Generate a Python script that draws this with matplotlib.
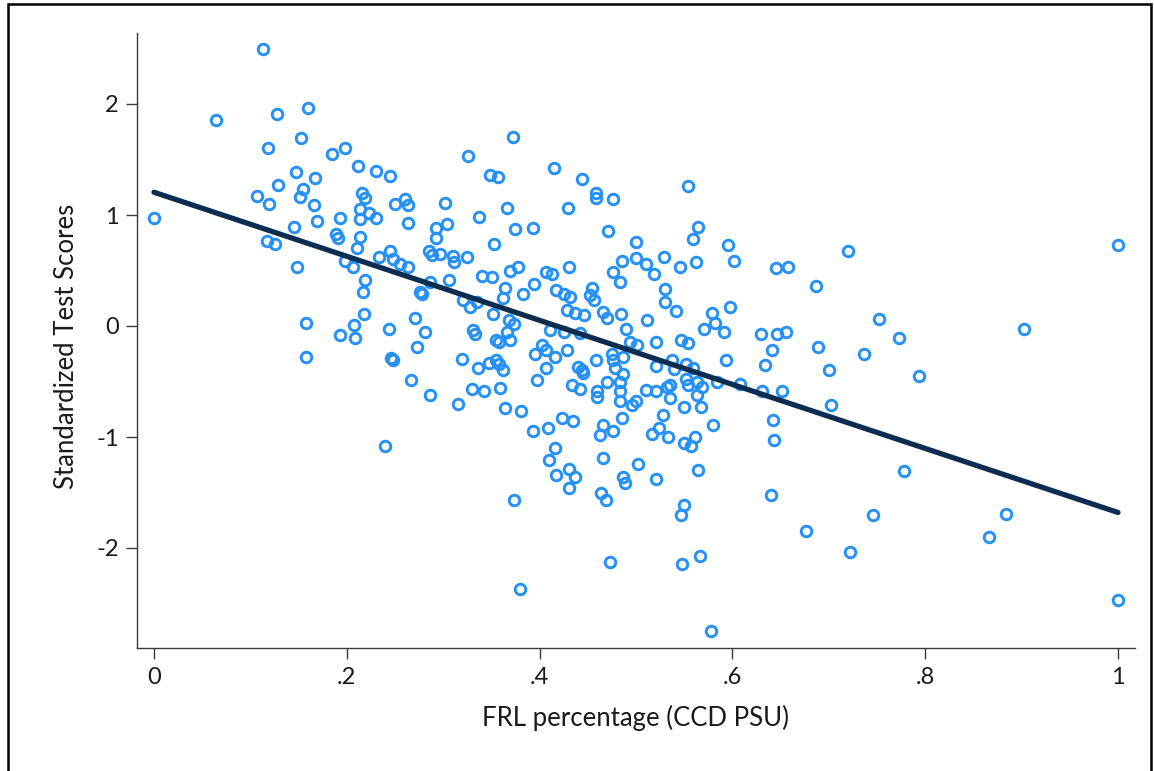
import matplotlib
matplotlib.use("Agg")
import matplotlib.pyplot as plt
from matplotlib.patches import Rectangle
import numpy as np

# FRL percentage (x) and standardized test scores (y)
frl = [
    0.000, 0.064, 0.107, 0.113, 0.118, 0.119, 0.117, 0.126, 0.128, 0.129,
    0.145, 0.147, 0.148, 0.151, 0.153, 0.155, 0.158, 0.158, 0.160, 0.166,
    0.167, 0.169, 0.185, 0.189, 0.191, 0.193, 0.193, 0.198, 0.198,
    0.212, 0.230, 0.245, 0.216, 0.219, 0.214, 0.223, 0.214, 0.230, 0.250,
    0.260, 0.263, 0.302, 0.264, 0.214, 0.293, 0.293, 0.304, 0.337, 0.366,
    0.374, 0.393, 0.429, 0.372, 0.326, 0.349, 0.357, 0.415, 0.353,
    0.211, 0.233, 0.245, 0.248, 0.255, 0.264, 0.285, 0.288, 0.297, 0.310,
    0.311, 0.325, 0.206, 0.219, 0.217, 0.286, 0.306, 0.276, 0.278, 0.340,
    0.351, 0.364, 0.362, 0.369, 0.378, 0.383, 0.394, 0.407, 0.413, 0.417,
    0.425, 0.428, 0.430, 0.321, 0.328, 0.335, 0.352, 0.368, 0.373, 0.366,
    0.355, 0.358, 0.369, 0.331, 0.333, 0.411, 0.402, 0.407, 0.416, 0.395,
    0.428, 0.207, 0.209, 0.218, 0.244, 0.271, 0.281, 0.273, 0.246, 0.319,
    0.336, 0.348, 0.355, 0.358, 0.362, 0.407, 0.397, 0.267, 0.286, 0.315,
    0.330, 0.342, 0.359, 0.364, 0.381, 0.393, 0.409, 0.423, 0.240, 0.434,
    0.248,
    0.373, 0.380, 0.416, 0.410, 0.417, 0.431, 0.431, 0.437,
    0.444, 0.459, 0.459, 0.476, 0.554, 0.471, 0.500, 0.564, 0.559, 0.595,
    0.602, 0.645, 0.485, 0.500, 0.510, 0.519, 0.529, 0.546, 0.562, 0.476,
    0.483, 0.530, 0.530, 0.542, 0.432, 0.454, 0.452, 0.456, 0.437, 0.446,
    0.466, 0.470, 0.484, 0.511, 0.490, 0.579, 0.582, 0.571, 0.591, 0.598,
    0.425, 0.442, 0.494, 0.501, 0.521, 0.547, 0.554, 0.630, 0.646, 0.641,
    0.459, 0.475, 0.476, 0.487, 0.440, 0.444, 0.445, 0.478, 0.487, 0.521,
    0.537, 0.539, 0.552, 0.559, 0.593, 0.634, 0.535, 0.552, 0.554, 0.563,
    0.568, 0.563, 0.584, 0.608, 0.631, 0.442, 0.460, 0.460, 0.470, 0.483,
    0.483, 0.483, 0.510, 0.521, 0.535, 0.532, 0.496, 0.500, 0.528, 0.550,
    0.567, 0.580, 0.435, 0.466, 0.463, 0.476, 0.485, 0.517, 0.524, 0.533,
    0.550, 0.557, 0.561, 0.642, 0.643,
    0.466, 0.502, 0.487, 0.489, 0.521, 0.564, 0.464, 0.469, 0.550, 0.547,
    0.640, 0.473, 0.548, 0.566, 0.578,
    0.720, 0.658, 0.687, 1.000, 0.902, 0.752, 0.656, 0.689, 0.773, 0.737,
    0.700, 0.794, 0.651, 0.702, 0.778, 0.746, 0.676, 0.722, 0.884, 0.866,
    1.000,
]
scores = [
    0.97, 1.86, 1.17, 2.50, 1.60, 1.10, 0.77, 0.74, 1.91, 1.27,
    0.89, 1.39, 0.53, 1.16, 1.69, 1.23, 0.03, -0.28, 1.96, 1.09,
    1.33, 0.95, 1.55, 0.83, 0.79, 0.97, -0.08, 1.60, 0.59,
    1.44, 1.40, 1.35, 1.20, 1.15, 1.05, 1.02, 0.96, 0.97, 1.10,
    1.14, 1.09, 1.11, 0.93, 0.80, 0.88, 0.79, 0.92, 0.98, 1.06,
    0.87, 0.88, 1.06, 1.70, 1.53, 1.36, 1.34, 1.42, 0.74,
    0.70, 0.62, 0.68, 0.60, 0.56, 0.53, 0.68, 0.64, 0.65, 0.63,
    0.58, 0.62, 0.53, 0.41, 0.31, 0.40, 0.41, 0.31, 0.29, 0.45,
    0.44, 0.34, 0.25, 0.50, 0.53, 0.29, 0.38, 0.49, 0.47, 0.32,
    0.285, 0.14, 0.53, 0.23, 0.17, 0.22, 0.11, 0.05, 0.02, -0.05,
    -0.13, -0.14, -0.13, -0.04, -0.07, -0.04, -0.17, -0.22, -0.28, -0.25,
    -0.22, 0.01, -0.11, 0.11, -0.03, 0.07, -0.05, -0.19, -0.29, -0.30,
    -0.38, -0.33, -0.31, -0.34, -0.40, -0.38, -0.49, -0.49, -0.62, -0.70,
    -0.57, -0.59, -0.56, -0.74, -0.77, -0.95, -0.92, -0.83, -1.08, -0.53,
    -0.31,
    -1.57, -2.37, -1.10, -1.21, -1.34, -1.29, -1.46, -1.36,
    1.32, 1.20, 1.15, 1.14, 1.26, 0.86, 0.76, 0.89, 0.78, 0.73,
    0.59, 0.52, 0.59, 0.61, 0.56, 0.47, 0.62, 0.53, 0.58, 0.49,
    0.40, 0.33, 0.22, 0.135, 0.26, 0.34, 0.28, 0.23, 0.12, 0.10,
    0.13, 0.07, 0.105, 0.05, -0.03, 0.12, 0.03, -0.03, -0.05, 0.17,
    -0.05, -0.06, -0.14, -0.17, -0.14, -0.13, -0.15, -0.07, -0.07, -0.22,
    -0.31, -0.25, -0.31, -0.28, -0.37, -0.40, -0.42, -0.38, -0.43, -0.36,
    -0.31, -0.39, -0.34, -0.38, -0.31, -0.35, -0.53, -0.48, -0.53, -0.50,
    -0.55, -0.62, -0.50, -0.52, -0.59, -0.57, -0.59, -0.64, -0.50, -0.50,
    -0.59, -0.68, -0.58, -0.59, -0.65, -0.55, -0.71, -0.68, -0.80, -0.73,
    -0.73, -0.89, -0.86, -0.89, -0.98, -0.95, -0.83, -0.97, -0.92, -1.00,
    -1.05, -1.08, -1.00, -0.85, -1.03,
    -1.19, -1.24, -1.36, -1.41, -1.38, -1.30, -1.50, -1.57, -1.61, -1.70,
    -1.52, -2.13, -2.14, -2.07, -2.75,
    0.68, 0.53, 0.36, 0.73, -0.03, 0.06, -0.05, -0.19, -0.11, -0.25,
    -0.40, -0.45, -0.59, -0.71, -1.31, -1.70, -1.85, -2.04, -1.69, -1.90,
    -2.47,
]

# fitted line endpoints (x, y)
fit_x = [0.0, 1.0]
fit_y = [1.205, -1.68]

xticks = [0, 0.2, 0.4, 0.6, 0.8, 1.0]
xticklabels = ["0", ".2", ".4", ".6", ".8", "1"]
yticks = [-2, -1, 0, 1, 2]
yticklabels = ["-2", "-1", "0", "1", "2"]

plt.rcParams['font.family'] = ['Lato', 'DejaVu Sans']

W, H = 1154, 771
fig = plt.figure(figsize=(W / 100, H / 100), dpi=100)
fig.patch.set_facecolor('white')

L, R, T, B = 137, 1135, 33, 648
ax = fig.add_axes([L / W, (H - B) / H, (R - L) / W, (B - T) / H])

ax.plot(fit_x, fit_y, color='#0c2d50', lw=3.8, solid_capstyle='round', zorder=3)
ax.plot(frl, scores, linestyle='none', marker='o', ms=7.6, mew=2.1,
        mfc='none', mec='#2590f5', zorder=2)

ax.set_xlim((L - 154) / 964, (R - 154) / 964)
ax.set_ylim((326 - B) / 111, (326 - T) / 111)

ax.set_xticks(xticks)
ax.set_xticklabels(xticklabels)
ax.set_yticks(yticks)
ax.set_yticklabels(yticklabels)

for s in ['top', 'right']:
    ax.spines[s].set_visible(False)
for s in ['left', 'bottom']:
    ax.spines[s].set_color('#3a3a3a')
    ax.spines[s].set_linewidth(1.0)

ax.tick_params(axis='both', direction='out', length=8, width=1.0,
               color='#3a3a3a', labelsize=17, labelcolor='#1a1a1a')
ax.tick_params(axis='x', pad=6)
ax.tick_params(axis='y', pad=5)

ax.set_xlabel('FRL percentage (CCD PSU)', fontsize=18.5, color='#1a1a1a',
              va='center')
ax.set_ylabel('Standardized Test Scores', fontsize=18.5, color='#1a1a1a',
              va='center')
ax.xaxis.set_label_coords(0.5, (B - 718) / (B - T))
ax.yaxis.set_label_coords((67 - L) / (R - L), 0.49)

fig.add_artist(Rectangle((8 / W, -0.05), (1151 - 8) / W, (H - 4) / H + 0.05,
                         transform=fig.transFigure, fill=False,
                         lw=1.8, ec='black'))

fig.savefig('out.png', dpi=100, facecolor='white')
